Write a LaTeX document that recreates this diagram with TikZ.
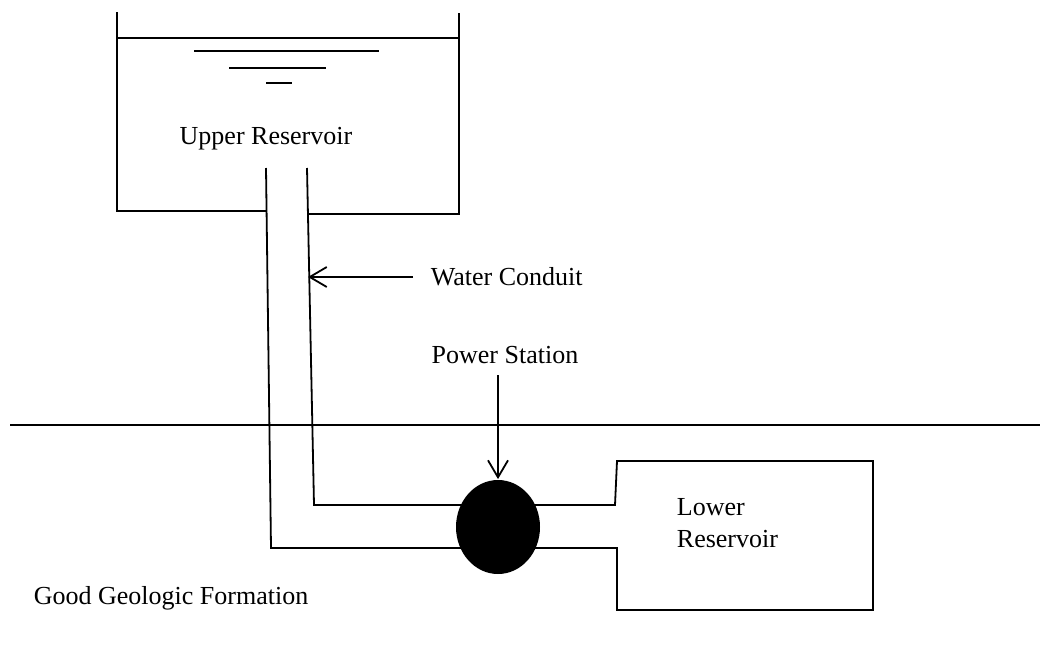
\documentclass[tikz,border=0pt]{standalone}
\usepackage{fontspec}
\setmainfont{Liberation Serif}
\usetikzlibrary{arrows.meta,shapes.geometric}
\definecolor{ink}{HTML}{000000}

\begin{document}
\begin{tikzpicture}[x=1pt,y=-1pt,line width=1.8pt,draw=ink,
  lbl/.style={font=\fontsize{26}{32}\selectfont,inner sep=0pt,text=ink},
  pointer/.style={-{Straight Barb[length=17pt,width=20pt]}}]
  \useasboundingbox (0,0) rectangle (1040,664);
  % upper reservoir
  \draw (117,12) -- (117,211) -- (266,211);
  \draw (307,214) -- (459,214) -- (459,13);
  \draw (117,38) -- (459,38);
  \foreach \a/\b/\y in {194/379/51,229/326/68,266/292/83} {\draw (\a,\y) -- (\b,\y);}
  \node[lbl] (up) at (266,139) {Upper Reservoir};
  % ground surface
  \draw (10,425) -- (1040,425);
  \node[ellipse,fill=ink,inner sep=0pt,minimum width=84pt,minimum height=94pt] (ps) at (498,527) {};
  % conduit and lower reservoir
  \draw (266,168) -- (271,548) -- (ps.center |- 0,548);
  \draw (307,168) -- (314,505) -- (ps.center |- 0,505);
  \draw (ps.center |- 0,505) -- (615,505) -- (617,461) -- (873,461) -- (873,610) -- (617,610) -- (617,548) -- (ps.center |- 0,548);
  \node[lbl,anchor=west,align=left] (lr) at (676,523) {Lower\\Reservoir};
  % labels
  \node[lbl,anchor=west] (wc) at (430,277) {Water Conduit};
  \coordinate (pipe) at (308,277);
  \draw[pointer] ([xshift=-17pt]wc.west) -- (pipe);
  \node[lbl] (psl) at (505,355) {Power Station};
  \draw[pointer] (ps.north |- 0,375) -- (ps.north);
  \node[lbl,anchor=west] (gg) at (33,598) {Good Geologic Formation};
\end{tikzpicture}
\end{document}
